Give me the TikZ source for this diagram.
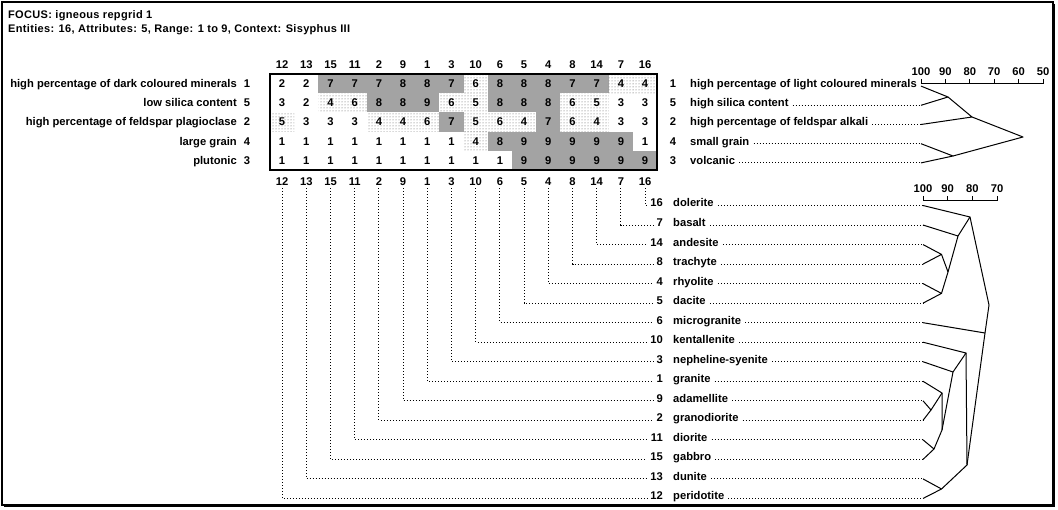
\documentclass[tikz,border=0pt]{standalone}
\usepackage{fontspec}
\setmainfont{Liberation Sans}
\usetikzlibrary{patterns}
\begin{document}
\begin{tikzpicture}[x=1pt,y=-1pt,
  every node/.style={inner sep=0pt,font=\fontsize{11.2}{13}\selectfont\bfseries},
  dots/.style={line width=0.9pt,dash pattern=on 0.9pt off 2.1pt},
  tree/.style={line width=1pt,line join=round},
  darkcell/.style={fill=black!36},
  lightcell/.style={pattern=dots,pattern color=black!65},
  hdr/.style={anchor=base},
  lablft/.style={anchor=base east},
  labrgt/.style={anchor=base west},
  ttl/.style={anchor=base west,font=\fontsize{11}{13}\selectfont\bfseries\addfontfeatures{LetterSpace=3}}]
\useasboundingbox (0,0) rectangle (1058,510);
\draw[line width=1.5pt] (2,2) rectangle (1053,505);
\draw[line width=1.5pt] (1054.5,4) -- (1054.5,506.5) -- (4,506.5);
% title
\node[ttl] (t1) at (8,19) {FOCUS: igneous repgrid 1};
\node[ttl] (t2) at (8,33) {Entities: 16, Attributes: 5, Range: 1 to 9, Context: Sisyphus III};
% grid cells
\foreach \r/\vals in {0/{2,2,7,7,7,8,8,7,6,8,8,8,7,7,4,4},
                      1/{3,2,4,6,8,8,9,6,5,8,8,8,6,5,3,3},
                      2/{5,3,3,3,4,4,6,7,5,6,4,7,6,4,3,3},
                      3/{1,1,1,1,1,1,1,1,4,8,9,9,9,9,9,1},
                      4/{1,1,1,1,1,1,1,1,1,1,9,9,9,9,9,9}}{
  \foreach \v [count=\c from 0] in \vals {
    \ifnum\v>6 \fill[darkcell] ({270+24.2*\c},{74+19.2*\r}) rectangle ++(24.2,19.2);\else
    \ifnum\v>3 \fill[lightcell] ({270+24.2*\c},{74+19.2*\r}) rectangle ++(24.2,19.2);\fi\fi
    \node[anchor=base] (cell-\r-\c) at ({282.1+24.2*\c},{74+19.2*\r+13.6}) {\v};
  }
}
\draw[line width=1.6pt] (270,74) rectangle (657,170);
% column headers
\foreach \e [count=\c from 0] in {12,13,15,11,2,9,1,3,10,6,5,4,8,14,7,16}{
  \node[hdr] (th\c) at ({282.1+24.2*\c},69) {\e};
  \node[hdr] (bh\c) at ({282.1+24.2*\c},186) {\e};
}
% left attribute labels
\foreach \r/\n/\t in {0/1/high percentage of dark coloured minerals,
                      1/5/low silica content,
                      2/2/high percentage of feldspar plagioclase,
                      3/4/large grain,
                      4/3/plutonic}{
  \node[lablft] (la\r) at (237,{74+19.2*\r+13.6}) {\t};
  \node[anchor=base] (li\r) at (247,{74+19.2*\r+13.6}) {\n};
}
% right attribute labels
\foreach \r/\n/\t in {0/1/high percentage of light coloured minerals,
                      1/5/high silica content,
                      2/2/high percentage of feldspar alkali,
                      3/4/small grain,
                      4/3/volcanic}{
  \node[anchor=base] (ri\r) at (673,{74+19.2*\r+13.6}) {\n};
  \node[labrgt] (ra\r) at (690,{74+19.2*\r+13.6}) {\t};
  \coordinate (al\r) at (921,{74+19.2*\r+12.1});
}
\foreach \r in {1,2,3,4}{\draw[dots] ([xshift=4pt,yshift=1.5pt]ra\r.base east) -- (al\r);}
% attribute scale
\draw[line width=0.9pt] (921,79) -- (921,83) -- (1043,83) -- (1043,79);
\foreach \l [count=\i from 0] in {100,90,80,70,60,50}{
  \coordinate (as\i) at ({921+24.4*\i},83);
  \draw[line width=0.9pt] (as\i) -- ++(0,-4);
  \node[anchor=base] (asl\i) at ({921+24.4*\i},76) {\l};
}
% attribute tree
\coordinate (j12) at (948,97);
\coordinate (j123) at (972,117);
\coordinate (j45) at (953,156);
\coordinate (jroot) at (1023,137);
\draw[tree] (al0) -- (j12) -- (al1);
\draw[tree] (j12) -- (j123) -- (al2);
\draw[tree] (al3) -- (j45) -- (al4);
\draw[tree] (j123) -- (jroot) -- (j45);
% element labels
\foreach \k/\n/\t in {0/16/dolerite,1/7/basalt,2/14/andesite,3/8/trachyte,
   4/4/rhyolite,5/5/dacite,6/6/microgranite,7/10/kentallenite,
   8/3/nepheline-syenite,9/1/granite,10/9/adamellite,11/2/granodiorite,
   12/11/diorite,13/15/gabbro,14/13/dunite,15/12/peridotite}{
  \pgfmathtruncatemacro{\cc}{15-\k}
  \node[anchor=base east] (en\k) at (663,{203+19.53*\k+4}) {\n};
  \node[anchor=base west] (et\k) at (673,{203+19.53*\k+4}) {\t};
  \coordinate (el\k) at (923,{203+19.53*\k+2.5});
  \draw[dots] ([yshift=-2pt]bh\cc.south) |- ([xshift=-3pt,yshift=1.5pt]en\k.base west);
  \draw[dots] ([xshift=4pt,yshift=1.5pt]et\k.base east) -- (el\k);
}
% element scale
\draw[line width=0.9pt] (923,196) -- (923,200) -- (997,200) -- (997,196);
\foreach \l [count=\i from 0] in {100,90,80,70}{
  \coordinate (es\i) at ({923+24.7*\i},200);
  \draw[line width=0.9pt] (es\i) -- ++(0,-4);
  \node[anchor=base] (esl\i) at ({923+24.7*\i},193) {\l};
}
% element tree
\coordinate (nC) at (941.5,254.4);
\coordinate (nD) at (941.5,293.4);
\coordinate (nE) at (948,272);
\coordinate (nB) at (958,236);
\coordinate (nA) at (970,217);
\coordinate (nP) at (931,410);
\coordinate (nQ) at (942,393);
\coordinate (nR) at (934,449);
\coordinate (nS) at (942,430);
\coordinate (nH) at (953,372);
\coordinate (nG) at (966,353);
\coordinate (nT) at (941.5,489);
\coordinate (nU) at (967,465);
\coordinate (nV) at (985,333);
\coordinate (nW) at (989,305);
\draw[tree] (el2) -- (nC) -- (el3);
\draw[tree] (el4) -- (nD) -- (el5);
\draw[tree] (nC) -- (nE) -- (nD);
\draw[tree] (el1) -- (nB) -- (nE);
\draw[tree] (el0) -- (nA) -- (nB);
\draw[tree] (el10) -- (nP) -- (el11);
\draw[tree] (el9) -- (nQ) -- (nP);
\draw[tree] (el12) -- (nR) -- (el13);
\draw[tree] (nQ) -- (nS) -- (nR);
\draw[tree] (el8) -- (nH) -- (nS);
\draw[tree] (el7) -- (nG) -- (nH);
\draw[tree] (el14) -- (nT) -- (el15);
\draw[tree] (nG) -- (nU) -- (nT);
\draw[tree] (el6) -- (nV) -- (nU);
\draw[tree] (nA) -- (nW) -- (nV);
\end{tikzpicture}
\end{document}
